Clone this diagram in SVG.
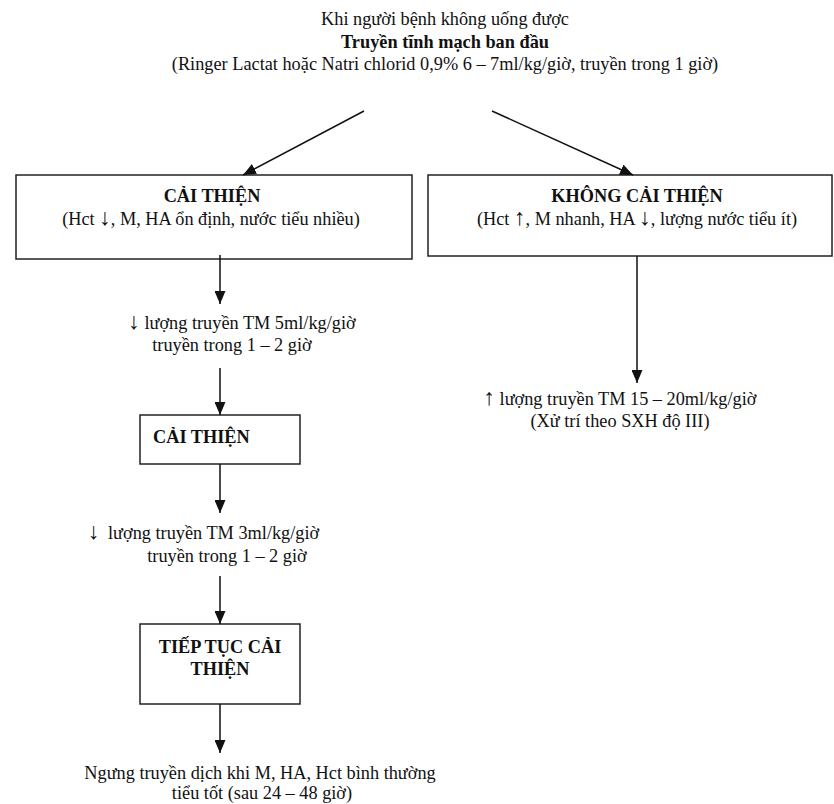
<svg xmlns="http://www.w3.org/2000/svg" width="834" height="804" viewBox="0 0 834 804">
<style>
text{font-family:"Liberation Serif","Times New Roman",serif;font-size:18.3px;fill:#111;}
.b{font-weight:bold;}
.m{text-anchor:middle;}
.ar{font-size:23px;}
.box{fill:#fff;stroke:#222;stroke-width:1.5;}
.c{stroke:#111;stroke-width:1.5;fill:none;marker-end:url(#ah);}
</style>
<defs>
<marker id="ah" markerUnits="userSpaceOnUse" markerWidth="13" markerHeight="11" refX="13" refY="5.5" orient="auto">
<path d="M0,0 L13,5.5 L0,11 z" fill="#111"/>
</marker>
</defs>
<rect width="834" height="804" fill="#fff"/>
<g id="start">
<text class="m" x="445" y="25">Khi người bệnh không uống được</text>
<text class="m b" x="445" y="48">Truyền tĩnh mạch ban đầu</text>
<text class="m" x="445" y="70">(Ringer Lactat hoặc Natri chlorid 0,9% 6 – 7ml/kg/giờ, truyền trong 1 giờ)</text>
</g>
<g id="improve">
<rect class="box" x="16" y="175" width="396" height="84"/>
<text class="m b" x="212" y="202">CẢI THIỆN</text>
<text class="m" x="211" y="225">(Hct <tspan class="ar">↓</tspan>, M, HA ổn định, nước tiểu nhiều)</text>
</g>
<g id="no-improve">
<rect class="box" x="428" y="175" width="404" height="81"/>
<text class="m b" x="637" y="202">KHÔNG CẢI THIỆN</text>
<text class="m" x="637" y="225">(Hct <tspan class="ar">↑</tspan>, M nhanh, HA <tspan class="ar">↓</tspan>, lượng nước tiểu ít)</text>
</g>
<g id="reduce5">
<text class="m" x="242" y="329"><tspan class="ar">↓</tspan> lượng truyền TM 5ml/kg/giờ</text>
<text class="m" x="232" y="351">truyền trong 1 – 2 giờ</text>
</g>
<g id="increase">
<text class="m" x="620" y="405"><tspan class="ar">↑</tspan> lượng truyền TM 15 – 20ml/kg/giờ</text>
<text class="m" x="620" y="427">(Xử trí theo SXH độ III)</text>
</g>
<g id="improve2">
<rect class="box" x="140" y="415" width="160" height="49"/>
<text class="b" x="153" y="443">CẢI THIỆN</text>
</g>
<g id="reduce3">
<text y="539"><tspan class="ar" x="88">↓</tspan><tspan x="108">lượng truyền TM 3ml/kg/giờ</tspan></text>
<text class="m" x="227" y="562">truyền trong 1 – 2 giờ</text>
</g>
<g id="continue">
<rect class="box" x="140" y="624" width="160" height="80"/>
<text class="m b" x="220" y="653">TIẾP TỤC CẢI</text>
<text class="m b" x="220" y="675">THIỆN</text>
</g>
<g id="stop">
<text class="m" x="260" y="779">Ngưng truyền dịch khi M, HA, Hct bình thường</text>
<text class="m" x="262" y="799">tiểu tốt (sau 24 – 48 giờ)</text>
</g>
<g id="connectors">
<line class="c" x1="364" y1="111" x2="243" y2="175"/>
<line class="c" x1="492" y1="111" x2="633" y2="175"/>
<line class="c" x1="220" y1="255" x2="220" y2="304"/>
<line class="c" x1="637" y1="256" x2="637" y2="383"/>
<line class="c" x1="220" y1="368" x2="220" y2="415"/>
<line class="c" x1="220" y1="464" x2="220" y2="513"/>
<line class="c" x1="220" y1="576" x2="220" y2="624"/>
<line class="c" x1="220" y1="704" x2="220" y2="753"/>
</g>
</svg>
